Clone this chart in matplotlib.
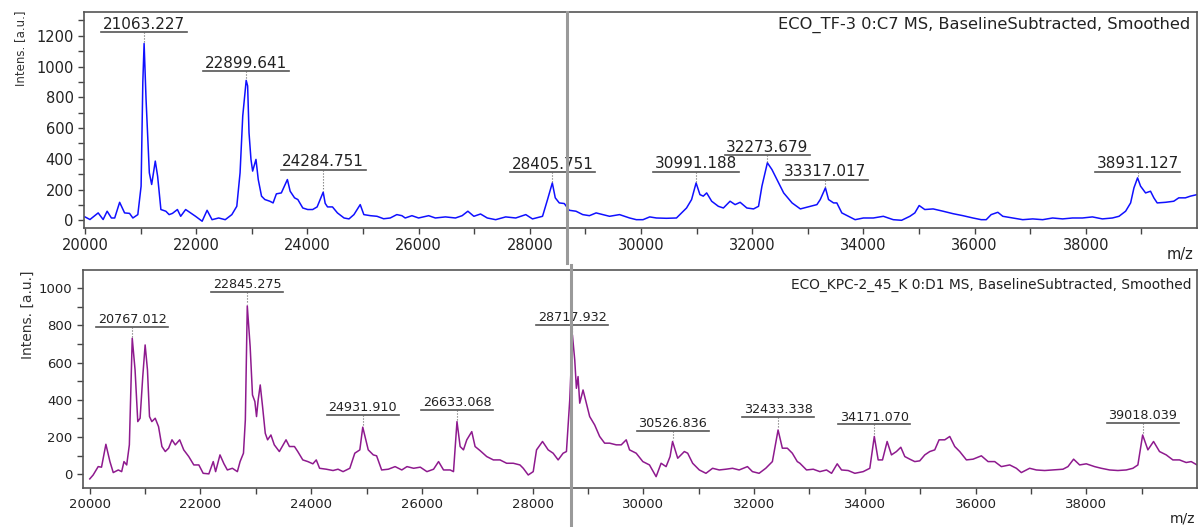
import matplotlib
matplotlib.use('Agg')
import matplotlib.pyplot as plt
from matplotlib.ticker import FixedLocator

# spectrum 1: ECO_TF-3 (blue)
top_mz = [20000, 20089, 20237, 20326, 20398, 20475, 20534, 20623, 20712, 20801, 20861, 20950,
          21009, 21040, 21063, 21098, 21157, 21199, 21264, 21306, 21365, 21454, 21513, 21573,
          21662, 21721, 21810, 21899, 21988, 22107, 22196, 22285, 22404, 22522, 22641, 22730,
          22789, 22837, 22899, 22925, 22950, 22985, 23015, 23075, 23116, 23175, 23235, 23324,
          23383, 23442, 23531, 23640, 23690, 23769, 23828, 23917, 24006, 24095, 24175, 24284,
          24320, 24362, 24451, 24540, 24659, 24748, 24837, 24950, 25015, 25134, 25252, 25371,
          25490, 25608, 25700, 25759, 25880, 26000, 26181, 26301, 26482, 26663, 26783, 26886,
          26994, 27114, 27235, 27386, 27566, 27747, 27928, 28048, 28229, 28319, 28405, 28458,
          28530, 28620, 28711, 28831, 28952, 29072, 29193, 29313, 29434, 29614, 29795, 29916,
          30036, 30157, 30277, 30458, 30638, 30729, 30819, 30910, 30991, 31060, 31120, 31181,
          31271, 31391, 31482, 31602, 31693, 31783, 31904, 32024, 32114, 32175, 32273, 32355,
          32446, 32566, 32717, 32866, 33045, 33164, 33224, 33317, 33373, 33463, 33522, 33612,
          33731, 33851, 34000, 34179, 34358, 34537, 34687, 34836, 34925, 35003, 35104, 35254,
          35433, 35612, 35791, 35970, 36119, 36209, 36298, 36418, 36507, 36687, 36866, 37045,
          37224, 37403, 37582, 37761, 37940, 38119, 38298, 38478, 38597, 38716, 38806, 38866,
          38931, 38985, 39075, 39164, 39224, 39284, 39433, 39582, 39672, 39791, 39881, 40000]
top_int = [22, 5, 48, 5, 59, 15, 15, 117, 48, 45, 15, 37,
           222, 900, 1150, 787, 309, 233, 385, 287, 70, 59, 37, 45,
           70, 26, 70, 48, 26, -6, 65, 4, 15, 4, 37, 91,
           309, 678, 910, 874, 569, 396, 320, 396, 265, 157, 135, 124,
           113, 172, 178, 265, 189, 146, 135, 80, 70, 70, 87, 183,
           110, 87, 87, 48, 15, 9, 37, 102, 37, 30, 26, 10,
           15, 37, 30, 15, 30, 15, 30, 15, 22, 15, 30, 59,
           26, 41, 15, 4, 22, 15, 37, 9, 26, 135, 243, 146,
           113, 109, 65, 59, 37, 30, 48, 37, 26, 37, 15, 4,
           4, 22, 15, 13, 15, 48, 80, 135, 243, 167, 157, 178,
           124, 91, 80, 124, 102, 117, 80, 74, 91, 222, 374, 330,
           265, 178, 113, 74, 91, 102, 135, 211, 135, 113, 113, 48,
           26, 4, 15, 15, 26, 4, 0, 26, 48, 96, 70, 74,
           59, 43, 30, 15, 4, 4, 37, 52, 26, 15, 4, 9,
           4, 15, 9, 15, 15, 22, 9, 15, 26, 59, 113, 211,
           276, 222, 178, 189, 146, 113, 117, 124, 146, 146, 157, 167]
top_labels = ['21063.227', '22899.641', '24284.751', '28405.751', '30991.188',
              '32273.679', '33317.017', '38931.127']
top_peak_int = [1150, 910, 183, 243, 243, 374, 211, 276]

# spectrum 2: ECO_KPC-2_45_K (purple)
bot_mz = [20000, 20061, 20152, 20212, 20291, 20364, 20424, 20515, 20576, 20618, 20667, 20715,
          20767, 20818, 20867, 20909, 20957, 21000, 21042, 21079, 21121, 21182, 21242, 21303,
          21364, 21424, 21485, 21545, 21624, 21697, 21788, 21879, 21970, 22048, 22151, 22230,
          22273, 22352, 22424, 22485, 22576, 22666, 22715, 22776, 22810, 22845, 22897, 22939,
          22982, 23012, 23042, 23079, 23121, 23170, 23212, 23272, 23333, 23424, 23545, 23606,
          23697, 23757, 23848, 23939, 24030, 24091, 24151, 24272, 24394, 24484, 24575, 24697,
          24787, 24878, 24931, 25030, 25121, 25181, 25272, 25393, 25515, 25636, 25730, 25850,
          25970, 26090, 26210, 26300, 26390, 26510, 26570, 26600, 26633, 26690, 26750, 26810,
          26900, 26960, 27050, 27170, 27290, 27410, 27530, 27650, 27770, 27830, 27920, 28010,
          28070, 28178, 28280, 28370, 28460, 28550, 28610, 28670, 28718, 28760, 28790, 28820,
          28850, 28910, 28970, 29030, 29120, 29210, 29300, 29390, 29510, 29600, 29690, 29750,
          29870, 29990, 30110, 30230, 30320, 30410, 30482, 30527, 30620, 30740, 30800, 30890,
          31010, 31130, 31250, 31370, 31490, 31610, 31730, 31880, 31970, 32090, 32210, 32330,
          32433, 32510, 32600, 32690, 32780, 32827, 32947, 33068, 33188, 33308, 33399, 33501,
          33579, 33699, 33820, 33970, 34090, 34171, 34241, 34319, 34403, 34481, 34571, 34650,
          34722, 34812, 34902, 34992, 35083, 35173, 35263, 35341, 35444, 35534, 35624, 35714,
          35835, 35955, 36105, 36226, 36346, 36466, 36617, 36737, 36827, 36977, 37098, 37248,
          37398, 37579, 37669, 37771, 37880, 38000, 38150, 38271, 38421, 38571, 38722, 38842,
          38932, 39018, 39113, 39215, 39323, 39444, 39564, 39684, 39805, 39895, 40000]
bot_int = [-25, -4, 41, 38, 161, 68, 9, 23, 14, 68, 50, 158,
           731, 561, 283, 301, 525, 695, 561, 310, 283, 301, 256, 149,
           122, 140, 185, 158, 185, 131, 95, 50, 50, 5, 2, 68,
           14, 104, 56, 23, 32, 14, 68, 113, 292, 905, 686, 426,
           391, 310, 400, 480, 364, 220, 185, 211, 158, 122, 185, 149,
           149, 122, 77, 68, 56, 77, 32, 27, 20, 27, 14, 32,
           113, 131, 253, 131, 104, 99, 23, 27, 41, 23, 41, 32,
           38, 14, 27, 68, 23, 23, 14, 140, 283, 149, 131, 185,
           229, 149, 127, 95, 77, 77, 59, 59, 50, 32, -4, 14,
           131, 176, 131, 113, 77, 113, 122, 400, 749, 615, 462, 525,
           382, 453, 382, 310, 265, 203, 167, 167, 158, 158, 185, 131,
           113, 68, 50, -13, 59, 41, 95, 176, 86, 122, 113, 59,
           23, 5, 32, 23, 27, 32, 23, 41, 14, 5, 32, 68,
           238, 140, 140, 113, 68, 59, 23, 27, 14, 23, 5, 56,
           23, 20, 5, 14, 32, 203, 77, 77, 176, 104, 122, 145,
           95, 81, 68, 72, 104, 122, 131, 185, 185, 203, 149, 122,
           77, 81, 99, 68, 68, 41, 50, 32, 9, 32, 23, 20,
           23, 27, 41, 81, 50, 56, 41, 32, 23, 20, 23, 32,
           50, 211, 131, 176, 122, 104, 77, 77, 63, 68, 50]
bot_labels = ['20767.012', '22845.275', '24931.910', '26633.068', '28717.932',
              '30526.836', '32433.338', '34171.070', '39018.039']
bot_peak_int = [731, 905, 253, 283, 749, 176, 238, 203, 211]

x_major = list(range(20000, 40000, 2000))
x_minor = list(range(21000, 41000, 2000))
y_major = list(range(0, 1400, 200))
y_minor = list(range(100, 1400, 200))
cursor_mz = 28665

plt.rcParams['font.family'] = 'DejaVu Sans'
fig = plt.figure(figsize=(12, 5.27), dpi=100)
ax1 = fig.add_axes([0.070, 0.5674, 0.9275, 0.4099])
ax2 = fig.add_axes([0.069, 0.074, 0.9285, 0.4137])

ax1.plot(top_mz, top_int, color='#1010ff', lw=1.1)
ax2.plot(bot_mz, bot_int, color='#8e1a8e', lw=1.1)

ax1.set_xlim(19982, 40000)
ax1.set_ylim(-50, 1355)
ax2.set_xlim(19874, 40000)
ax2.set_ylim(-74, 1098)

for ax, fs in [(ax1, 10.5), (ax2, 9.5)]:
    ax.xaxis.set_major_locator(FixedLocator(x_major))
    ax.xaxis.set_minor_locator(FixedLocator(x_minor))
    ax.yaxis.set_major_locator(FixedLocator(y_major))
    ax.yaxis.set_minor_locator(FixedLocator(y_minor))
    ax.tick_params(which='both', direction='out', length=4, width=1, color='#444444',
                   labelsize=fs, labelcolor='#222222')
    for sp in ax.spines.values():
        sp.set_color('#555555')
        sp.set_linewidth(1.2)

ax1.set_ylabel('Intens. [a.u.]', fontsize=8.5, color='#333333')
ax1.yaxis.set_label_coords(-0.051, 0.833)
ax2.set_ylabel('Intens. [a.u.]', fontsize=10, color='#333333')
ax2.yaxis.set_label_coords(-0.043, 0.794)

ax1.text(0.9937, 0.94, 'ECO_TF-3 0:C7 MS, BaselineSubtracted, Smoothed', transform=ax1.transAxes,
         ha='right', va='center', fontsize=11.7, color='#222222')
ax2.text(0.9955, 0.931, 'ECO_KPC-2_45_K 0:D1 MS, BaselineSubtracted, Smoothed', transform=ax2.transAxes,
         ha='right', va='center', fontsize=9.9, color='#222222')
ax1.text(0.985, -0.125, 'm/z', transform=ax1.transAxes, ha='center', va='center',
         fontsize=10.5, color='#222222')
ax2.text(0.987, -0.138, 'm/z', transform=ax2.transAxes, ha='center', va='center',
         fontsize=10, color='#222222')

# cursor lines
ax1.axvline(cursor_mz, ymin=-0.162, ymax=1.0, color='#9a9a9a', lw=2.2, clip_on=False, zorder=5)
ax2.axvline(cursor_mz + 25, ymin=-0.18, ymax=1.023, color='#9a9a9a', lw=2.2, clip_on=False, zorder=5)

# peak labels with underline + leader
top_levels = [1224, 970, 330, 311, 317, 422, 265, 317]
bot_levels = [792, 980, 319, 346, 803, 233, 308, 270, 276]

texts = []
for ax, labels, peaks, levels, fs in [(ax1, top_labels, top_peak_int, top_levels, 11),
                                       (ax2, bot_labels, bot_peak_int, bot_levels, 9.2)]:
    for lab, pk, lv in zip(labels, peaks, levels):
        t = ax.annotate(lab, xy=(float(lab), lv), xytext=(0, 2.5), textcoords='offset points',
                        ha='center', va='baseline', fontsize=fs, color='#222222')
        texts.append((ax, t, float(lab), pk, lv))

fig.canvas.draw()
r = fig.canvas.get_renderer()
for ax, t, mz, pk, lv in texts:
    bb = t.get_window_extent(r).transformed(ax.transData.inverted())
    ax.plot([bb.x0 - 30, bb.x1 + 30], [lv, lv], color='#555555', lw=1.2)
    ax.plot([mz, mz], [lv, pk + 8], color='#666666', lw=0.8, ls=':')

fig.savefig('out.png', dpi=100)
